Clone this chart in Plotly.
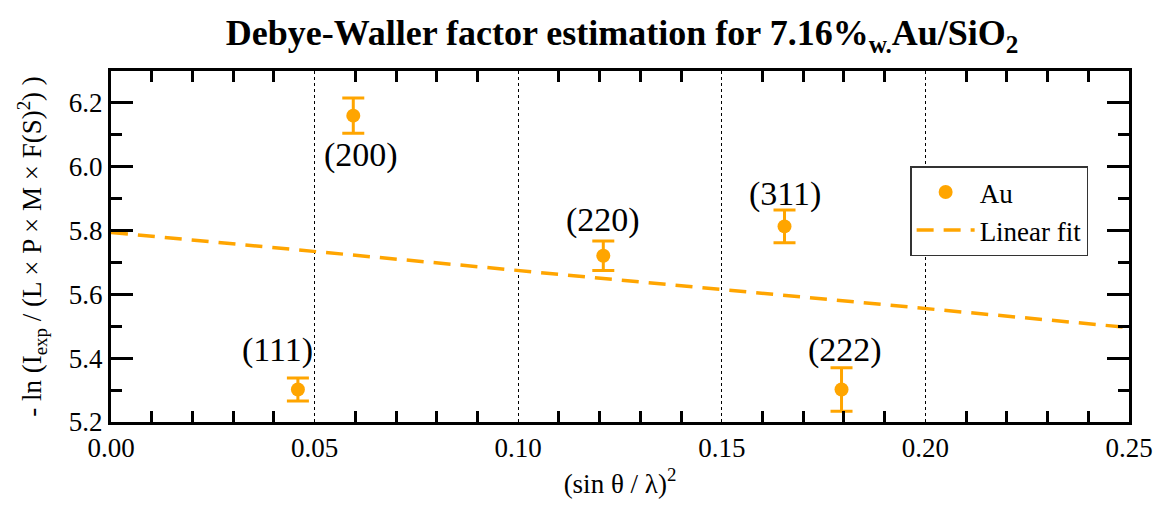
import plotly.graph_objects as go

# Reflections of Au: (sin(theta)/lambda)^2 and -ln(I_exp / (L P M F^2))
reflections = ["(111)", "(200)", "(220)", "(311)", "(222)"]
s2 = [0.0459, 0.0595, 0.1209, 0.1654, 0.1794]
neg_ln = [5.302, 6.160, 5.721, 5.813, 5.302]
err = [0.036, 0.055, 0.046, 0.051, 0.068]

# Label anchor points for each reflection
label_x = [0.0408, 0.0615, 0.1209, 0.1656, 0.1803]
label_y = [5.425, 6.037, 5.834, 5.915, 5.427]

# Linear fit endpoints
fit_x = [0.0, 0.25]
fit_y = [5.794, 5.496]

ORANGE = "#FFA500"
SERIF = "Liberation Serif"

fig = go.Figure()
fig.add_trace(go.Scatter(
    x=s2, y=neg_ln, mode="markers", name="Au",
    marker=dict(color=ORANGE, size=14),
    error_y=dict(type="data", array=err, color=ORANGE, thickness=3, width=11),
))
fig.add_trace(go.Scatter(
    x=fit_x, y=fit_y, mode="lines", name="Linear fit",
    line=dict(color=ORANGE, width=3.5, dash="17px,10px"),
))

for lbl, lx, ly in zip(reflections, label_x, label_y):
    fig.add_annotation(x=lx, y=ly, text=lbl, showarrow=False,
                       font=dict(family=SERIF, size=34, color="black"),
                       xanchor="center", yanchor="middle")

axis_common = dict(
    showline=True, linecolor="black", linewidth=3, mirror="ticks",
    ticks="inside", tickcolor="black", tickwidth=2.5,
    tickfont=dict(family=SERIF, size=27, color="black"),
    zeroline=False,
)

fig.update_xaxes(
    **axis_common,
    range=[0, 0.25], tick0=0, dtick=0.05, tickformat=".2f", ticklen=0,
    showgrid=True, gridcolor="black", gridwidth=1, griddash="dot",
    minor=dict(dtick=0.01, ticks="inside", ticklen=11, tickwidth=2.5,
               tickcolor="black", showgrid=False),
    title=dict(text="(sin θ / λ)<sup>2</sup>",
               font=dict(family=SERIF, size=27, color="black"), standoff=12),
)
fig.update_yaxes(
    **axis_common,
    range=[5.2, 6.3], tick0=5.2, dtick=0.2, tickformat=".1f", ticklen=22,
    showgrid=False,
    minor=dict(dtick=0.1, ticks="inside", ticklen=11, tickwidth=2.5,
               tickcolor="black", showgrid=False),
    title=dict(text="- ln (I<sub>exp</sub> / (L × P × M × F(S)<sup>2</sup>) )",
               font=dict(family=SERIF, size=27, color="black"), standoff=20),
)

fig.update_layout(
    width=1165, height=506,
    margin=dict(l=111, r=29, t=71, b=76),
    paper_bgcolor="white", plot_bgcolor="white",
    title=dict(text="<b>Debye-Waller factor estimation for 7.16%<sub>w.</sub>Au/SiO<sub>2</sub></b>",
               x=0.534, xanchor="center", y=0.935, yanchor="middle",
               font=dict(family=SERIF, size=36, color="black")),
    legend=dict(x=0.785, y=0.728, xanchor="left", yanchor="top",
                bordercolor="#333333", borderwidth=1.5, bgcolor="white",
                font=dict(family=SERIF, size=27, color="black"),
                tracegroupgap=0, itemwidth=58),
    showlegend=True,
)

fig.write_html("out.html")
